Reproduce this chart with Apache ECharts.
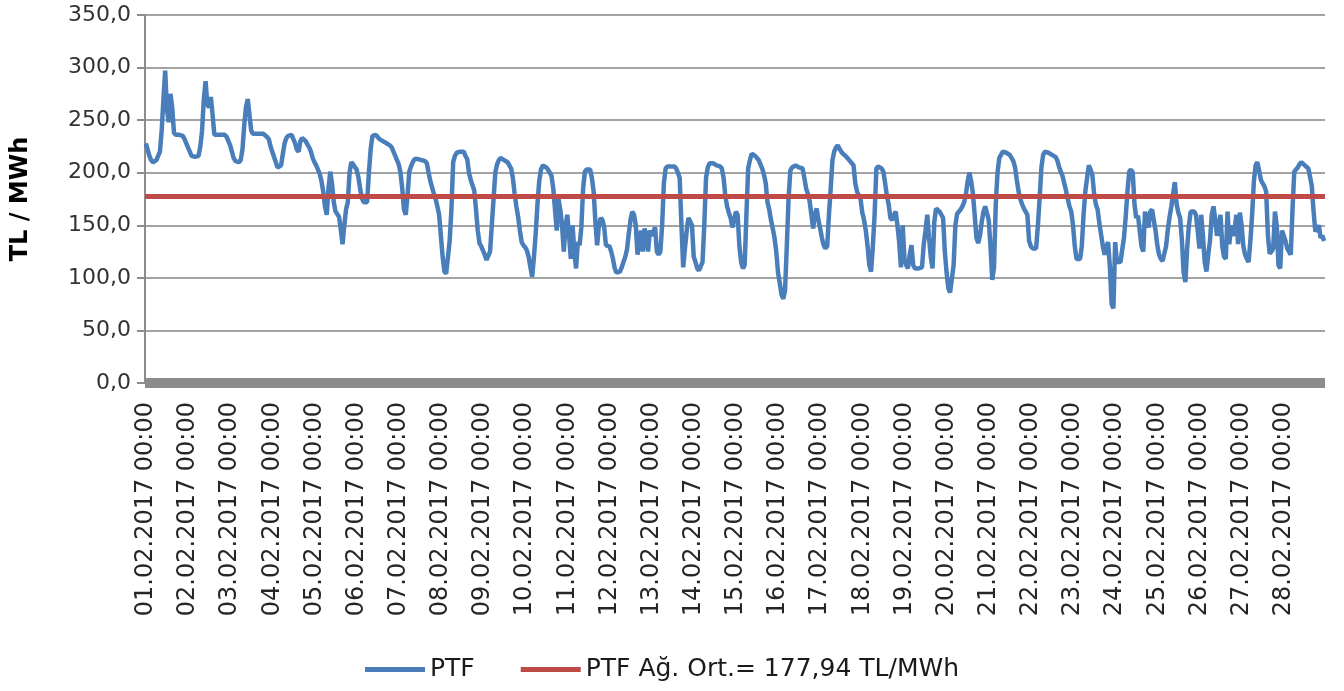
<!DOCTYPE html>
<html>
<head>
<meta charset="utf-8">
<script src="https://cdn.jsdelivr.net/npm/echarts@6/dist/echarts.min.js"></script>
<style>
html,body{margin:0;padding:0;background:#fff;}
#chart{width:1344px;height:691px;}
</style>
</head>
<body>
<div id="chart"></div>
<script>
const TICK_DAYS = ['01.02.2017','02.02.2017','03.02.2017','04.02.2017','05.02.2017','06.02.2017','07.02.2017',
  '08.02.2017','09.02.2017','10.02.2017','11.02.2017','12.02.2017','13.02.2017','14.02.2017',
  '15.02.2017','16.02.2017','17.02.2017','18.02.2017','19.02.2017','20.02.2017','21.02.2017',
  '22.02.2017','23.02.2017','24.02.2017','25.02.2017','26.02.2017','27.02.2017','28.02.2017'];

const d01 = [228,222,216,212,210,210,212,216,220,240,270,297,260,248,275,262,238,236,236,236,236,235,232,228];
const d02 = [224,220,216,215,215,215,216,225,240,270,287,265,262,272,255,236,236,236,236,236,236,236,234,230];
const d03 = [226,220,214,211,210,210,212,222,245,262,270,255,240,237,237,237,237,237,237,237,236,234,232,225];
const d04 = [220,215,210,205,204,207,218,228,233,235,236,236,232,228,222,220,230,233,232,230,227,224,220,214];
const d05 = [210,207,203,199,192,182,168,160,185,201,190,172,163,163,158,146,132,150,165,172,200,210,208,207];
const d06 = [203,196,185,176,172,172,172,200,222,235,236,236,234,232,231,230,229,228,228,226,224,220,216,212];
const d07 = [208,200,185,165,160,178,201,206,210,213,214,213,212,212,212,211,209,200,192,186,180,175,168,160];
const d08 = [140,120,106,104,104,135,165,210,216,219,220,220,220,220,216,213,200,193,188,183,165,145,133,130];
const d09 = [126,122,117,117,125,150,175,200,208,212,214,213,212,211,210,207,204,195,180,168,158,145,134,131];
const d10 = [129,126,120,110,101,120,142,170,192,203,207,206,205,203,200,197,185,165,145,175,165,150,125,150];
const d11 = [160,140,118,150,125,109,134,131,148,185,201,203,203,203,195,182,153,131,150,157,155,148,131,130];
const d12 = [130,125,118,109,105,104,106,110,115,120,127,142,155,163,160,150,122,134,145,125,147,140,125,145];
const d13 = [140,140,148,125,122,125,150,190,204,206,207,206,206,206,204,200,195,150,110,128,145,157,157,150];
const d14 = [120,115,109,107,107,115,150,195,205,209,210,209,208,207,207,206,204,195,178,168,162,157,148,155];
const d15 = [163,160,130,115,109,112,160,204,212,218,218,216,214,212,208,204,198,190,172,165,155,147,138,125];
const d16 = [105,95,84,80,88,130,175,202,205,206,207,206,205,205,204,195,185,180,173,160,147,160,166,155];
const d17 = [147,138,131,128,130,160,185,212,220,224,226,223,220,218,217,215,214,211,209,207,190,182,182,175];
const d18 = [162,155,145,130,112,106,130,160,204,206,207,204,201,190,178,170,157,155,160,163,150,134,110,150];
const d19 = [118,112,109,122,131,112,109,109,109,109,110,132,145,160,138,120,109,153,166,165,163,160,157,125];
const d20 = [105,90,86,85,112,150,161,163,165,168,172,179,192,200,192,180,160,138,133,140,153,163,168,168];
const d21 = [155,130,98,110,170,200,214,217,220,220,219,218,217,214,211,205,193,182,175,170,166,163,160,135];
const d22 = [130,128,128,128,150,176,205,217,220,220,219,218,217,216,215,212,206,201,197,190,183,175,168,163];
const d23 = [150,130,118,118,118,130,160,182,195,207,203,198,180,170,165,152,141,130,122,130,134,110,75,71];
const d24 = [134,115,115,115,115,138,158,182,201,203,200,170,157,159,158,130,125,163,162,148,163,165,166,145];
const d25 = [131,122,118,116,115,130,146,158,168,180,191,170,162,157,136,105,96,128,150,163,163,163,160,145];
const d26 = [128,160,140,115,106,122,135,160,168,155,140,140,160,130,120,118,163,132,150,140,145,160,132,162];
const d27 = [150,130,122,118,115,135,160,192,207,210,202,193,192,187,182,140,123,125,128,163,150,112,109,145];
const d28 = [145,135,128,125,122,165,201,203,205,208,210,209,207,206,204,196,187,163,144,147,150,138,140,135];

const AVG_PTF = 177.94;
const SERIES_NAMES = ['PTF', 'PTF Ağ. Ort.= 177,94 TL/MWh'];

const days = [d01,d02,d03,d04,d05,d06,d07,d08,d09,d10,d11,d12,d13,d14,d15,d16,d17,d18,d19,d20,d21,d22,d23,d24,d25,d26,d27,d28];
const categories = [];
const ptf = [];
days.forEach((arr, di) => {
  arr.forEach((v, h) => {
    categories.push(TICK_DAYS[di] + ' ' + String(h).padStart(2, '0') + ':00');
    ptf.push(v);
  });
});

const FONT = 'DejaVu Sans';
const chart = echarts.init(document.getElementById('chart'), null, {renderer: 'canvas'});
chart.setOption({
  animation: false,
  backgroundColor: '#ffffff',
  grid: {left: 145, right: 19, top: 15, bottom: 308, containLabel: false},
  legend: {
    left: 360, top: 652,
    itemWidth: 60, itemHeight: 5, itemGap: 46,
    icon: 'rect',
    textStyle: {fontFamily: FONT, fontSize: 25, color: '#1a1a1a'},
    data: SERIES_NAMES
  },
  xAxis: {
    type: 'category',
    data: categories,
    boundaryGap: true,
    offset: 5,
    axisLine: {show: true, lineStyle: {color: '#8c8c8c', width: 10, cap: 'butt'}},
    axisTick: {show: false},
    splitLine: {show: false},
    axisLabel: {
      interval: 23,
      rotate: 90,
      margin: 14,
      fontFamily: FONT,
      fontSize: 24,
      color: '#262626'
    }
  },
  yAxis: {
    type: 'value',
    min: 0, max: 350, interval: 50,
    name: 'TL / MWh',
    nameLocation: 'middle',
    nameGap: 112,
    nameTextStyle: {fontFamily: FONT, fontSize: 24, fontWeight: 'bold', color: '#000'},
    axisLine: {show: true, lineStyle: {color: '#8c8c8c', width: 2}},
    axisTick: {show: true, length: 8, lineStyle: {color: '#8c8c8c', width: 2}},
    splitLine: {show: true, lineStyle: {color: '#a3a3a3', width: 2}},
    axisLabel: {
      margin: 14,
      fontFamily: FONT,
      fontSize: 22,
      color: '#333',
      formatter: v => v.toFixed(1).replace('.', ',')
    }
  },
  series: [
    {
      name: SERIES_NAMES[0],
      type: 'line',
      data: ptf,
      symbol: 'none',
      smooth: false,
      color: '#4a7ebb',
      lineStyle: {color: '#4a7ebb', width: 4.5},
      z: 3
    },
    {
      name: SERIES_NAMES[1],
      type: 'line',
      data: [],
      symbol: 'none',
      color: '#be4b48',
      lineStyle: {color: '#be4b48', width: 5},
      markLine: {
        silent: true,
        symbol: 'none',
        label: {show: false},
        lineStyle: {color: '#be4b48', width: 5, type: 'solid'},
        data: [{yAxis: AVG_PTF}]
      },
      z: 4
    }
  ]
});
</script>
</body>
</html>
